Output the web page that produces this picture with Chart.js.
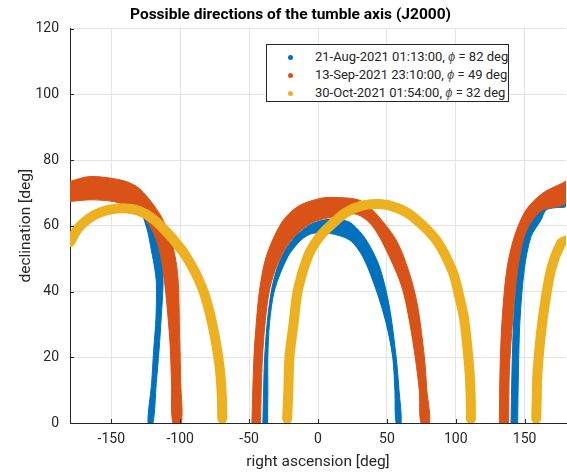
<!DOCTYPE html>
<html>
<head>
<meta charset="utf-8">
<script src="https://cdn.jsdelivr.net/npm/chart.js@4.4.0/dist/chart.umd.min.js"></script>
<style>
  body { margin: 0; background: #fff; }
  #wrap { position: relative; width: 567px; height: 472px; }
  #legend { position: absolute; left: 266px; top: 44px; width: 241px; height: 56px;
    border: 1px solid #262626; background: #fff; font: 13px Roboto, sans-serif; color: #262626; }
  .row { position: absolute; left: 0; height: 18px; line-height: 18px; white-space: nowrap; }
  .dot { position: absolute; left: 21px; top: 6.5px; width: 5px; height: 5px; border-radius: 50%; }
  .txt { position: absolute; left: 48px; }
  .txt i { color: #555; }
</style>
</head>
<body>
<div id="wrap">
  <canvas id="myChart" width="567" height="472"></canvas>
  <div id="legend"></div>
</div>
<script>
// tick labels
const xTicks = [-150, -100, -50, 0, 50, 100, 150];
const yTicks = [0, 20, 40, 60, 80, 100, 120];

// legend entries
const seriesDates = ['21-Aug-2021 01:13:00', '13-Sep-2021 23:10:00', '30-Oct-2021 01:54:00'];
const seriesPhi = [82, 49, 32];

// band outlines [ra, dec]: outer edge, then inner edge back
const blueLeft = [[-180,72.5],[-165,74.2],[-148,73.8],[-138,72.5],[-131,69],[-127,63],[-123.5,58],[-121,52.7],[-118.5,47],[-117.3,42.5],[-117.6,32],[-119.3,22],[-120.8,12],[-123.4,0],
  [-119.8,0],[-117.4,12],[-115.4,22],[-113.8,32],[-112.5,42],[-113,50],[-116,57],[-122,63],[-135,67],[-160,69],[-180,69]];
const blueMid = [[-40,0],[-39.5,10],[-38.7,20],[-36.5,32],[-33,42],[-27,50],[-18,56],[-5,60.5],[8,62],[18,61.8],[25,60.5],[35,55.7],[44.6,47.6],[51.8,35.4],[56.7,20.1],[58.8,10],[60.3,0],
  [56.7,0],[55.8,10],[54.2,20.1],[49.5,30.3],[42.2,40.5],[32.5,50.6],[22.8,55.7],[8.3,57.7],[-3.8,57.7],[-12.2,55.7],[-21.9,50.6],[-31.5,40.5],[-35.2,30.3],[-36.4,20],[-36.4,10],[-36.6,0]];
const blueRight = [[140.1,0],[140.8,16],[142,31],[144.5,46],[149,56],[155,62],[162,67],[170,70.5],[180,72.5],
  [180,66],[172,65.5],[165.5,64.8],[161.9,61.8],[154.6,56.7],[149.7,46.6],[146.6,31.3],[145.5,16],[144.9,0]];

const orangeLeft = [[-180,73.5],[-165.7,75],[-143.9,74],[-131.8,72],[-122.2,67.9],[-112.5,61.8],[-105.3,53.7],[-101.7,44.5],[-100.4,26.2],[-99.6,12],[-99.2,0],
  [-105.3,0],[-106.3,12],[-107.7,26.2],[-112.5,46.6],[-117.3,55.7],[-127,62.8],[-143.9,66.9],[-163.3,67.9],[-180,67.4]];
const orangeMid = [[-48,0],[-46.5,20],[-44.5,32],[-42.4,40.5],[-37.6,50.6],[-26.7,60.8],[-14.6,65.9],[2.3,68.4],[15,68.6],[30,67.8],[39.7,64.8],[56.7,55.7],[66.4,45.5],[72.4,35.4],[77.2,20.1],[79,10],[80.9,0],
  [74.8,0],[73.5,10],[68.7,25.2],[61.5,40.5],[51.8,50.6],[39.7,59.8],[28,63.5],[12,62.8],[-4.9,60.8],[-19.4,55.7],[-29.1,48.6],[-35.2,40.5],[-38.5,30],[-40.3,20],[-41.2,10],[-41.7,0]];
const orangeRight = [[131.6,0],[132.1,16.1],[133.6,31.3],[137,46.6],[142.5,56.7],[151,64.8],[163,69.9],[177.5,73],[180,73.5],
  [180,66.9],[163,64.8],[155.8,61.8],[149.7,56.7],[144.9,46.6],[141.3,31.3],[138.9,16.1],[138.4,0]];

// yellow arcs (centre line)
const yellowLeft = [[-180,55],[-173,59.8],[-158.5,64],[-139,65.3],[-124.6,63.5],[-110,58.2],[-95.6,50.6],[-83.5,40.5],[-76.3,29.3],[-71.4,17],[-69.8,8],[-69.5,1.3]];
const yellowMid = [[-22.4,1.3],[-21.5,10],[-20.7,20.1],[-17.8,30],[-14.6,40.5],[-7.4,50.6],[0,56],[8.3,59.8],[20,64],[32.5,66.2],[45,66.6],[57,65.5],[68.7,62.8],[85.7,55.7],[97.8,46],[102.6,38.4],[106.2,31.3],[109.9,16.1],[110.8,8],[111,1.3]];
const yellowRight = [[158.4,1.3],[158.8,8],[159.4,16.1],[163,31.3],[169.1,46.6],[176.4,54.7],[180,55.5]];

const colors = ['#0072BD', '#D95319', '#EDB120'];

const toXY = pts => pts.map(([x, y]) => ({ x, y }));

function band(pts, color, order) {
  return { data: toXY(pts), borderColor: color, backgroundColor: color, borderWidth: 1,
    fill: 'shape', pointRadius: 0, tension: 0.3, order: order };
}
function arc(pts, color, order) {
  return { data: toXY(pts), borderColor: color, borderWidth: 10, fill: false, pointRadius: 0,
    tension: 0.3, borderCapStyle: 'round', borderJoinStyle: 'round', order: order };
}

const datasets = [
  band(blueLeft, colors[0], 3), band(blueMid, colors[0], 3), band(blueRight, colors[0], 3),
  band(orangeLeft, colors[1], 2), band(orangeMid, colors[1], 2), band(orangeRight, colors[1], 2),
  arc(yellowLeft, colors[2], 1), arc(yellowMid, colors[2], 1), arc(yellowRight, colors[2], 1)
];

// legend
const legend = document.getElementById('legend');
seriesDates.forEach((d, i) => {
  const row = document.createElement('div');
  row.className = 'row';
  row.style.top = (3 + i * 18) + 'px';
  row.innerHTML = '<span class="dot" style="background:' + colors[i] + '"></span>' +
    '<span class="txt">' + d + ', <i>ϕ</i> = ' + seriesPhi[i] + ' deg</span>';
  legend.appendChild(row);
});

// small inward tick marks, matlab style
const innerTicks = {
  id: 'innerTicks',
  afterDraw(chart) {
    const { ctx, chartArea: a, scales: { x, y } } = chart;
    ctx.save();
    ctx.strokeStyle = '#262626';
    ctx.lineWidth = 1;
    ctx.beginPath();
    xTicks.forEach(v => { const px = Math.round(x.getPixelForValue(v)) + 0.5; ctx.moveTo(px, a.bottom); ctx.lineTo(px, a.bottom - 4); });
    yTicks.forEach(v => { const py = Math.round(y.getPixelForValue(v)) + 0.5; ctx.moveTo(a.left, py); ctx.lineTo(a.left + 4, py); });
    ctx.stroke();
    ctx.restore();
  }
};

Chart.defaults.font.family = 'Roboto';
Chart.defaults.color = '#262626';

const ctx = document.getElementById('myChart').getContext('2d');
new Chart(ctx, {
  type: 'line',
  data: { datasets: datasets },
  plugins: [innerTicks],
  options: {
    responsive: false,
    animation: false,
    layout: { padding: { left: 15, right: 1, top: 0, bottom: 0 } },
    plugins: {
      legend: { display: false },
      tooltip: { enabled: false },
      title: { display: true, text: 'Possible directions of the tumble axis (J2000)',
        font: { size: 15.5, weight: 'bold' }, color: '#000', padding: { top: 6, bottom: 4 } }
    },
    scales: {
      x: {
        type: 'linear', min: -180, max: 180,
        afterBuildTicks: s => { s.ticks = xTicks.map(v => ({ value: v })); },
        afterFit: s => { s.height = 49; },
        ticks: { font: { size: 14 }, padding: 8, maxRotation: 0 },
        grid: { color: '#e3e3e3', drawTicks: false },
        border: { color: '#262626' },
        title: { display: true, text: 'right ascension [deg]', font: { size: 15.5 }, padding: { top: 0, bottom: 1 } }
      },
      y: {
        min: 0, max: 120,
        afterBuildTicks: s => { s.ticks = yTicks.map(v => ({ value: v })); },
        afterFit: s => { s.width = 55; },
        ticks: { font: { size: 14 }, padding: 11 },
        grid: { color: '#e3e3e3', drawTicks: false },
        border: { color: '#262626' },
        title: { display: true, text: 'declination [deg]', font: { size: 15.5 }, padding: { top: 2, bottom: 0 } }
      }
    }
  }
});
</script>
</body>
</html>
